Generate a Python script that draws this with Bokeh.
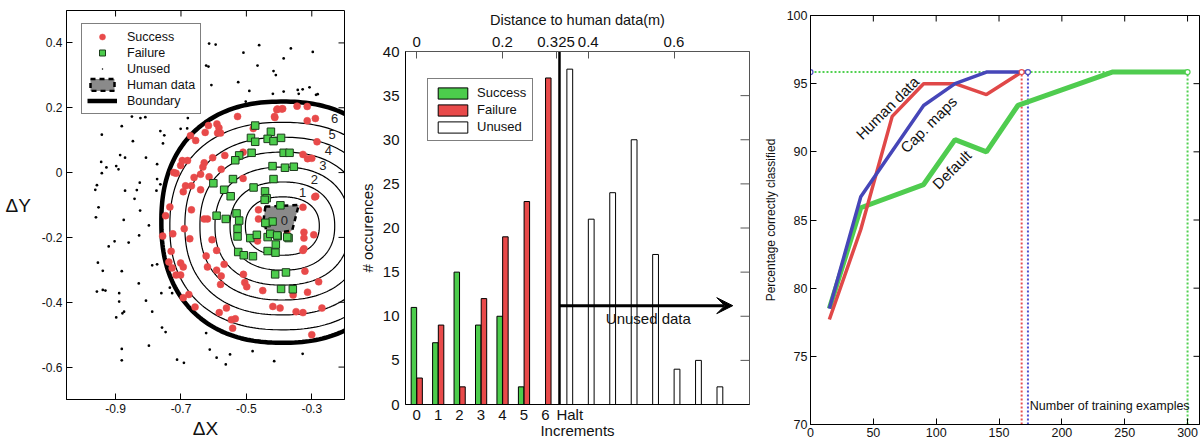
import numpy as np
from bokeh.plotting import figure
from bokeh.layouts import row
from bokeh.models import (Range1d, LinearAxis, FixedTicker, Legend, LegendItem,
                          Label, Arrow, VeeHead, PrintfTickFormatter)
from bokeh.embed import file_html
from bokeh.resources import INLINE
from bokeh.core.properties import value

FONT = "Liberation Sans"
RED = "#e84a4a"
GREEN = "#4ccc4c"

# ---------------- Panel 1 data ----------------
success_x = [-0.527,-0.413,-0.407,-0.389,-0.345,-0.314,-0.314,-0.289,-0.284,-0.616,
             -0.626,-0.590,-0.584,-0.588,-0.579,-0.671,-0.655,-0.479,-0.327,-0.313,
             -0.300,-0.566,-0.603,-0.510,-0.577,-0.629,-0.633,-0.640,-0.614,-0.696,
             -0.680,-0.701,-0.722,-0.715,-0.660,-0.686,-0.693,-0.668,-0.640,-0.510,
             -0.291,-0.734,-0.747,-0.668,-0.629,-0.619,-0.463,-0.463,-0.327,-0.324,
             -0.324,-0.294,-0.324,-0.327,-0.756,-0.725,-0.690,-0.673,-0.605,-0.591,
             -0.730,-0.737,-0.727,-0.701,-0.693,-0.715,-0.701,-0.623,-0.619,-0.591,
             -0.568,-0.577,-0.579,-0.509,-0.505,-0.499,-0.450,-0.321,-0.279,-0.313,
             -0.357,-0.676,-0.693,-0.657,-0.583,-0.561,-0.419,-0.397,-0.348,-0.327,
             -0.269,-0.546,-0.534,-0.542,-0.300,-0.466,-0.376,-0.405,-0.392,-0.414,
             -0.288]
success_y = [0.173,0.170,0.194,0.197,0.205,0.204,0.160,0.167,0.095,0.145,
             0.124,0.150,0.138,0.122,0.122,0.114,0.099,0.136,0.056,0.043,
             0.044,0.053,0.046,0.063,0.010,0.030,0.017,-0.005,-0.013,0.037,
             0.037,0.022,0.0,-0.002,-0.015,-0.041,-0.059,-0.041,-0.053,-0.018,
             -0.075,-0.106,-0.133,-0.115,-0.143,-0.143,-0.115,-0.143,-0.107,-0.184,
             -0.202,-0.192,-0.235,-0.240,-0.196,-0.189,-0.173,-0.204,-0.207,-0.240,
             -0.243,-0.276,-0.294,-0.279,-0.291,-0.316,-0.316,-0.257,-0.291,-0.301,
             -0.283,-0.319,-0.345,-0.314,-0.339,-0.352,-0.364,-0.304,-0.337,-0.369,
             -0.378,-0.376,-0.386,-0.415,-0.432,-0.418,-0.413,-0.418,-0.429,-0.432,
             -0.418,-0.454,-0.451,-0.480,-0.500,-0.211,-0.179,0.196,0.196,0.173,
             -0.073]

failure_x = [-0.473,-0.425,-0.486,-0.473,-0.435,-0.417,-0.394,-0.484,-0.522,-0.534,
             -0.386,-0.368,-0.420,-0.382,-0.355,-0.601,-0.541,-0.568,-0.478,-0.417,
             -0.548,-0.443,-0.438,-0.396,-0.591,-0.563,-0.530,-0.522,-0.527,-0.527,
             -0.488,-0.468,-0.435,-0.427,-0.404,-0.371,-0.438,-0.420,-0.410,-0.435,
             -0.411,-0.525,-0.508,-0.480,-0.412,-0.379,-0.394,-0.358,-0.444,-0.442,
             -0.406,-0.375]
failure_y = [0.145,0.126,0.107,0.095,0.104,0.097,0.107,0.061,0.053,0.038,
             0.061,0.061,0.020,0.015,0.018,-0.033,-0.020,-0.053,-0.046,-0.020,
             -0.073,-0.058,-0.079,-0.101,-0.133,-0.143,-0.126,-0.148,-0.173,-0.197,
             -0.202,-0.192,-0.199,-0.189,-0.196,-0.202,-0.156,-0.151,-0.222,-0.242,
             -0.247,-0.245,-0.255,-0.258,-0.314,-0.308,-0.359,-0.360,-0.084,-0.155,
             -0.194,-0.199]

unused_x = [-0.614,-0.594,-0.461,-0.364,-0.297,-0.509,-0.386,-0.623,-0.616,-0.466,
            -0.417,-0.410,-0.525,-0.607,-0.491,-0.419,-0.386,-0.343,-0.328,-0.340,
            -0.307,-0.287,-0.282,-0.502,-0.850,-0.824,-0.809,-0.881,-0.679,-0.942,
            -0.847,-0.763,-0.751,-0.755,-0.701,-0.681,-0.886,-0.871,-0.807,-0.944,
            -0.928,-0.942,-0.898,-0.891,-0.773,-0.773,-0.775,-0.826,-0.763,-0.957,
            -0.962,-0.871,-0.835,-0.842,-0.952,-0.825,-0.960,-0.875,-0.798,-0.828,
            -0.903,-0.921,-0.860,-0.954,-0.939,-0.881,-0.788,-0.773,-0.829,-0.957,
            -0.939,-0.931,-0.889,-0.760,-0.727,-0.734,-0.889,-0.807,-0.874,-0.879,
            -0.788,-0.898,-0.758,-0.747,-0.798,-0.881,-0.881,-0.712,-0.691,-0.623,
            -0.612,-0.591,-0.563,-0.550,-0.481,-0.415,-0.328]
unused_y = [0.398,0.395,0.393,0.383,0.372,0.370,0.352,0.330,0.327,0.330,
            0.313,0.301,0.279,0.270,0.252,0.243,0.250,0.255,0.257,0.243,
            0.263,0.240,0.242,0.219,0.173,0.168,0.171,0.143,0.168,0.117,
            0.097,0.128,0.115,0.090,0.135,0.136,0.054,0.046,0.046,0.033,
            0.016,-0.002,0.020,0.010,0.026,-0.020,-0.056,-0.031,-0.036,-0.039,
            -0.053,-0.056,-0.054,-0.081,-0.107,-0.117,-0.138,-0.146,-0.163,-0.194,
            -0.212,-0.228,-0.216,-0.278,-0.303,-0.304,-0.286,-0.283,-0.342,-0.367,
            -0.362,-0.364,-0.372,-0.372,-0.372,-0.355,-0.398,-0.395,-0.429,-0.434,
            -0.429,-0.447,-0.478,-0.492,-0.534,-0.544,-0.579,-0.577,-0.587,-0.495,
            -0.546,-0.571,-0.592,-0.561,-0.551,-0.582,-0.559]

human_x = [-0.442, -0.340, -0.360, -0.437, -0.447]
human_y = [-0.105, -0.100, -0.179, -0.189, -0.143]

ring_center = (-0.39, -0.165)
ring_rx = [0.113, 0.160, 0.206, 0.252, 0.298, 0.344]
ring_ry = [0.090, 0.136, 0.182, 0.228, 0.274, 0.320]
boundary_center = (-0.39, -0.153)
boundary_r = (0.37, 0.372)
ring_label_text = ["0", "1", "2", "3", "4", "5", "6"]
ring_label_x = [-0.384, -0.328, -0.292, -0.266, -0.249, -0.238, -0.230]
ring_label_y = [-0.148, -0.061, -0.020, 0.022, 0.069, 0.117, 0.168]
p1_xticks = [-0.9, -0.7, -0.5, -0.3]
p1_yticks = [-0.6, -0.4, -0.2, 0.0, 0.2, 0.4]

# ---------------- Panel 2 data ----------------
increment_labels = ["0", "1", "2", "3", "4", "5", "6"]
increment_distance = [0.0, 0.05, 0.10, 0.15, 0.20, 0.25, 0.30]
success_counts = [11, 7, 15, 9, 10, 2, 0]
failure_counts = [3, 9, 2, 12, 19, 23, 37]
unused_distance = [0.357, 0.407, 0.457, 0.507, 0.557, 0.607, 0.657, 0.707]
unused_counts = [38, 21, 24, 30, 17, 4, 5, 2]
halt_distance = 0.333
halt_label_distance = 0.357
top_ticks = [0.0, 0.2, 0.325, 0.4, 0.6]
count_ticks = [0, 5, 10, 15, 20, 25, 30, 35, 40]

# ---------------- Panel 3 data ----------------
human_ex = [15, 40, 65, 90, 115, 140, 168]
human_pct = [77.7, 84.3, 92.6, 95.0, 95.0, 94.2, 95.85]
cap_ex = [15, 40, 90, 115, 140, 173]
cap_pct = [78.5, 86.7, 93.4, 95.0, 95.85, 95.85]
default_ex = [15, 40, 90, 115, 140, 165, 240, 300]
default_pct = [78.5, 85.9, 87.6, 90.9, 90.0, 93.4, 95.85, 95.85]
final_pct = 95.85
p3_xticks = [0, 50, 100, 150, 200, 250, 300]
p3_yticks = [70, 75, 80, 85, 90, 95, 100]


def superellipse(cx, cy, rx, ry, n=2.3, k=240):
    t = np.linspace(0, 2 * np.pi, k)
    c, s = np.cos(t), np.sin(t)
    x = cx + rx * np.sign(c) * np.abs(c) ** (2.0 / n)
    y = cy + ry * np.sign(s) * np.abs(s) ** (2.0 / n)
    return list(x), list(y)


def add_axis(p, side, ticks, size="12px", overrides=None, tick_len=6, title=None,
             title_size="12px", fmt="%g", standoff=4, title_standoff=2, color="black"):
    ax = LinearAxis(ticker=FixedTicker(ticks=ticks, minor_ticks=[]))
    ax.major_tick_in = tick_len
    ax.major_tick_out = 0
    ax.minor_tick_in = 0
    ax.minor_tick_out = 0
    ax.axis_line_color = color
    ax.major_tick_line_color = color
    ax.major_label_text_font = FONT
    ax.major_label_text_color = "#111111"
    ax.formatter = PrintfTickFormatter(format=fmt)
    if overrides:
        ax.major_label_overrides = overrides
    ax.major_label_text_font_size = size
    ax.major_label_standoff = standoff
    if title:
        ax.axis_label = title
        ax.axis_label_text_font = FONT
        ax.axis_label_text_font_size = title_size
        ax.axis_label_text_font_style = "normal"
        ax.axis_label_text_color = "#111111"
        ax.axis_label_standoff = title_standoff
    p.add_layout(ax, side)
    return ax


def mirror_ticks(p, xticks, yticks, tick_len=6, color="black"):
    # inward tick marks on the top and right frame edges (half of each dash is clipped)
    xr, yr = p.x_range, p.y_range
    if xticks:
        p.scatter(xticks, [yr.end] * len(xticks), marker="dash", size=2 * tick_len,
                  angle=np.pi / 2, line_color=color, line_width=1)
    if yticks:
        p.scatter([xr.end] * len(yticks), yticks, marker="dash", size=2 * tick_len,
                  line_color=color, line_width=1)


# ================= Panel 1 =================
p1 = figure(width=352, height=441, x_range=Range1d(-1.05, -0.2), y_range=Range1d(-0.7, 0.5),
            output_backend="svg", toolbar_location=None, x_axis_type=None, y_axis_type=None,
            min_border_left=66, min_border_right=8, min_border_top=10, min_border_bottom=39)
p1.frame_align = False
p1.outline_line_color = "black"

for rx, ry in zip(ring_rx, ring_ry):
    xs, ys = superellipse(ring_center[0], ring_center[1], rx, ry)
    p1.line(xs, ys, line_color="black", line_width=1.2)
bx, by = superellipse(boundary_center[0], boundary_center[1], boundary_r[0], boundary_r[1])
r_bound = p1.line(bx, by, line_color="black", line_width=4.5)

r_unused = p1.scatter(unused_x, unused_y, marker="dot", size=11, color="black")
r_succ = p1.scatter(success_x, success_y, marker="circle", size=7, fill_color=RED,
                    line_color=RED, line_width=0.5)
r_human = p1.patch(human_x, human_y, fill_color="#8a8a8a", line_color="black",
                   line_dash="5 4", line_width=2.5)
r_fail = p1.scatter(failure_x, failure_y, marker="square", size=7.5, fill_color=GREEN,
                    line_color="#1d3d1d", line_width=1)
p1.text(x=ring_label_x, y=ring_label_y, text=ring_label_text, text_font=value(FONT),
        text_font_size="13px", text_align="center", text_baseline="middle",
        text_color="#222222")
mirror_ticks(p1, p1_xticks, p1_yticks)

add_axis(p1, "below", p1_xticks, size="12px", title="ΔX", title_size="19px")
ax_y1 = add_axis(p1, "left", p1_yticks, size="12px", title="ΔY",
                 title_size="19px", title_standoff=8)
ax_y1.axis_label_orientation = "horizontal"

leg1 = Legend(items=[LegendItem(label="Success", renderers=[r_succ]),
                     LegendItem(label="Failure", renderers=[r_fail]),
                     LegendItem(label="Unused", renderers=[r_unused]),
                     LegendItem(label="Human data", renderers=[r_human]),
                     LegendItem(label="Boundary", renderers=[r_bound])],
              location=(15, 285))
leg1.label_text_font = FONT
leg1.label_text_font_size = "12.5px"
leg1.label_text_color = "#111111"
leg1.glyph_width = 30
leg1.glyph_height = 15
leg1.label_height = 15
leg1.label_standoff = 10
leg1.spacing = 1
leg1.padding = 5
leg1.margin = 0
leg1.border_line_color = "black"
leg1.border_line_width = 1
leg1.background_fill_alpha = 1
p1.add_layout(leg1)

# ================= Panel 2 =================
p2 = figure(width=408, height=441, x_range=Range1d(-0.026, 0.776), y_range=Range1d(0, 40),
            output_backend="svg", toolbar_location=None, x_axis_type=None, y_axis_type=None,
            min_border_left=53, min_border_right=11, min_border_top=51, min_border_bottom=35)
p2.frame_align = False
p2.outline_line_color = "#555555"

bw = 0.0128
succ_pos = [d - bw / 2 for d in increment_distance]
fail_pos = [d + bw / 2 + 0.0005 for d in increment_distance]
r_sb = p2.vbar(x=succ_pos, top=success_counts, width=bw, fill_color=GREEN, line_color="black",
               line_width=1)
r_fb = p2.vbar(x=fail_pos, top=failure_counts, width=bw, fill_color=RED, line_color="black",
               line_width=1)
r_ub = p2.vbar(x=unused_distance, top=unused_counts, width=0.0135, fill_color="white",
               line_color="black", line_width=1)
p2.segment(x0=[halt_distance], y0=[0], x1=[halt_distance], y1=[40], line_color="black",
           line_width=2.5)
p2.add_layout(Arrow(end=VeeHead(size=16, fill_color="black", line_color="black"),
                    x_start=halt_distance, y_start=11.2, x_end=0.737, y_end=11.2,
                    line_width=3, line_color="black"))
p2.add_layout(Label(x=0.441, y=9.7, text="Unused data", text_font=FONT, text_font_size="15px",
                    text_baseline="middle", text_color="#111111"))
mirror_ticks(p2, None, count_ticks, tick_len=9, color="#555555")

bottom_ticks = increment_distance + [halt_label_distance]
bottom_labels = increment_labels + ["Halt"]
add_axis(p2, "below", bottom_ticks, size="15px", tick_len=0,
         overrides=dict(zip(bottom_ticks, bottom_labels)), title="Increments",
         title_size="15px", standoff=1, title_standoff=-4)
add_axis(p2, "left", count_ticks, size="15px", tick_len=0, title="# occurences",
         title_size="15px", standoff=6, title_standoff=4)
add_axis(p2, "above", top_ticks, size="15px", tick_len=7, title="Distance to human data(m)",
         title_size="14.5px", standoff=5, title_standoff=6, color="#555555")

leg2 = Legend(items=[LegendItem(label="Success", renderers=[r_sb]),
                     LegendItem(label="Failure", renderers=[r_fb]),
                     LegendItem(label="Unused", renderers=[r_ub])],
              location=(22, 263))
leg2.label_text_font = FONT
leg2.label_text_font_size = "13px"
leg2.label_text_color = "#111111"
leg2.glyph_width = 37
leg2.glyph_height = 14
leg2.label_height = 14
leg2.label_standoff = 6
leg2.spacing = 2
leg2.padding = 6
leg2.margin = 0
leg2.border_line_color = "black"
leg2.border_line_width = 1
p2.add_layout(leg2)

# ================= Panel 3 =================
p3 = figure(width=440, height=441, x_range=Range1d(0, 309.5), y_range=Range1d(70, 100),
            output_backend="svg", toolbar_location=None, x_axis_type=None, y_axis_type=None,
            min_border_left=48, min_border_right=1, min_border_top=15, min_border_bottom=17)
p3.frame_align = False
p3.outline_line_color = "black"

final_ex = [human_ex[-1], cap_ex[-1], default_ex[-1]]
final_colors = ["#e85050", "#5050d0", "#50d050"]
p3.segment(x0=final_ex, y0=[70, 70, 70], x1=final_ex, y1=[final_pct] * 3,
           line_color=final_colors, line_width=2, line_dash="2 2")
p3.segment(x0=[0], y0=[final_pct], x1=[default_ex[-1]], y1=[final_pct],
           line_color="#50d050", line_width=2, line_dash="2 2")

p3.line(default_ex, default_pct, line_color="#4fcc4f", line_width=5)
p3.line(human_ex, human_pct, line_color="#e04848", line_width=3.5)
p3.line(cap_ex, cap_pct, line_color="#4646b8", line_width=3.5)
p3.scatter([0] + final_ex, [final_pct] * 4, marker="circle", size=5,
           fill_color="white", line_color=["#5050c0", "#e85050", "#5050c0", "#50d050"],
           line_width=1.2)

p3.text(x=[61.2, 93.9, 112.4], y=[93.23, 92.0, 88.7],
        text=["Human data", "Cap. maps", "Default"], angle=np.pi / 4,
        text_font=value(FONT), text_font_size="15px", text_align="center",
        text_baseline="middle", text_color="#111111")
p3.add_layout(Label(x=174.5, y=71.35, text="Number of training examples", text_font=FONT,
                    text_font_size="12.5px", text_baseline="middle", text_color="#111111"))
mirror_ticks(p3, p3_xticks, p3_yticks)

add_axis(p3, "below", p3_xticks, size="12.5px", standoff=3)
add_axis(p3, "left", p3_yticks, size="12.5px", standoff=3,
         title="Percentage correctly classified", title_size="12px", title_standoff=6)

layout = row(p1, p2, p3, spacing=0)
open("out.html", "w").write(file_html(layout, INLINE))
